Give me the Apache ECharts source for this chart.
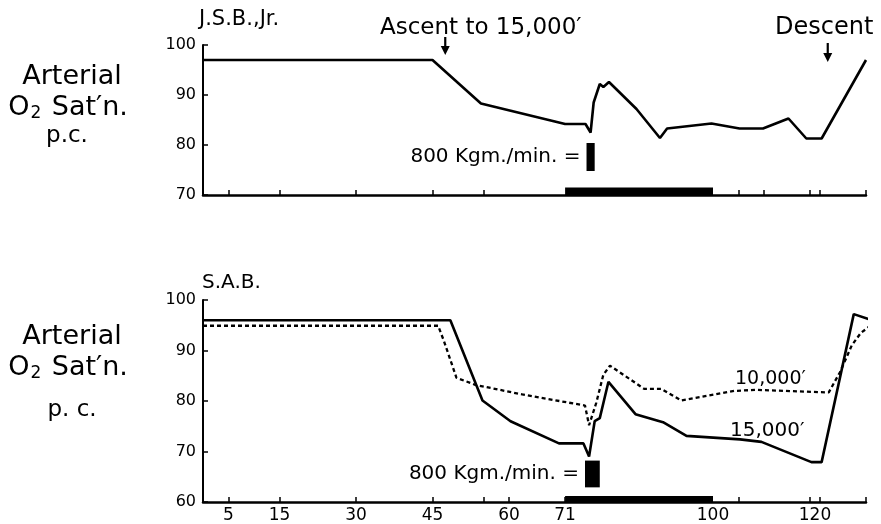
<!DOCTYPE html>
<html>
<head>
<meta charset="utf-8">
<script src="https://cdn.jsdelivr.net/npm/echarts@6/dist/echarts.min.js"></script>
<style>
html, body { margin: 0; padding: 0; background: #fff; }
#chart { width: 881px; height: 524px; }
</style>
</head>
<body>
<div id="chart"></div>
<script>
// J.S.B., Jr. - arterial O2 saturation (%) against minutes, ascent to 15,000'
var jsbMin = [0, 45, 54.5, 71, 75, 76, 76.6, 77.8, 78.5, 79.6, 85, 89.6, 91, 99.7, 105.2, 109.8, 114.8, 118.3, 121.3, 130];
var jsbSat = [97, 97, 88.3, 84.2, 84.2, 82.5, 88.5, 92.2, 91.6, 92.6, 87.2, 81.4, 83.3, 84.3, 83.3, 83.3, 85.3, 81.3, 81.3, 97];

// S.A.B. at 15,000'
var sab15Min = [0, 48.5, 54.8, 60.3, 69.8, 74.6, 75.7, 76.8, 77.8, 79.5, 84.8, 90.2, 94.8, 105.3, 109.5, 119.3, 121.3, 127.6, 131.2];
var sab15Sat = [96, 96, 80.1, 76, 71.6, 71.6, 69, 76, 76.6, 83.8, 77.4, 75.8, 73.1, 72.4, 71.9, 67.9, 67.9, 97.2, 96];

// S.A.B. at 10,000'
var sab10Min = [0, 46.1, 47.2, 49.7, 53.4, 62.6, 74.9, 75.7, 77.1, 78.5, 79.8, 86.5, 89.8, 93.8, 104.2, 108.4, 122.7, 124.9, 127.2, 129, 131];
var sab10Sat = [94.9, 94.9, 92, 84.6, 83.2, 81.3, 79.1, 75.2, 79.6, 85.2, 87, 82.4, 82.4, 80.1, 82, 82.2, 81.7, 85.7, 91, 93.5, 95];

// work period (800 Kgm./min.)
var workStart = 71;
var workEnd = 100;

// axis ticks and labels
var topTicks = [5, 15, 30, 45, 55, 105, 110, 119, 121, 130];
var bottomTicks = [5, 15, 30, 45, 55, 60, 71, 105, 119, 121, 130];
var bottomLabels = [5, 15, 30, 45, 60, 71, 100, 120];
var ascentAt = 47.5;
var descentAt = 122.5;

var FONT = 'DejaVu Sans';

function pairs(xs, ys) {
    var out = [];
    for (var i = 0; i < xs.length; i++) out.push([xs[i], ys[i]]);
    return out;
}

function xAxisFor(idx, ticks, labels) {
    return {
        type: 'value',
        gridIndex: idx,
        min: 0,
        max: 130,
        axisLine: { lineStyle: { color: '#000', width: 2.5 } },
        axisTick: { inside: true, length: 5, customValues: ticks, lineStyle: { color: '#000', width: 1.5 } },
        axisLabel: labels ? {
            customValues: labels, color: '#000', fontSize: 17, fontFamily: FONT, margin: 5
        } : { show: false },
        splitLine: { show: false }
    };
}

function yAxisFor(idx, min) {
    return {
        type: 'value',
        gridIndex: idx,
        min: min,
        max: 100,
        interval: 10,
        axisLine: { show: true, lineStyle: { color: '#000', width: 2 } },
        axisTick: { show: true, inside: true, length: 5, lineStyle: { color: '#000', width: 1.5 } },
        axisLabel: { color: '#000', fontSize: 16, fontFamily: FONT, margin: 7 },
        splitLine: { show: false }
    };
}

var blackArea = { color: '#000', opacity: 1 };
var kgmLabel = {
    show: true, position: 'left', distance: 6, color: '#000',
    fontSize: 20, fontFamily: FONT, formatter: '800 Kgm./min. ='
};

var option = {
    animation: false,
    backgroundColor: '#fff',
    grid: [
        { left: 203, right: 15, top: 45, height: 150 },
        { left: 203, right: 15, top: 300, height: 202 }
    ],
    xAxis: [xAxisFor(0, topTicks, null), xAxisFor(1, bottomTicks, bottomLabels)],
    yAxis: [yAxisFor(0, 70), yAxisFor(1, 60)],
    series: [
        {
            name: 'J.S.B., Jr.',
            type: 'line',
            xAxisIndex: 0, yAxisIndex: 0,
            data: pairs(jsbMin, jsbSat),
            symbol: 'none',
            clip: false,
            lineStyle: { color: '#000', width: 2.6 },
            markArea: {
                silent: true,
                itemStyle: blackArea,
                data: [
                    [{ xAxis: workStart, yAxis: 70 }, { xAxis: workEnd, yAxis: 71.5 }],
                    [{ xAxis: 75.2, yAxis: 80.4, label: kgmLabel }, { xAxis: 76.8, yAxis: 74.8 }]
                ]
            }
        },
        {
            name: "15,000'",
            type: 'line',
            xAxisIndex: 1, yAxisIndex: 1,
            data: pairs(sab15Min, sab15Sat),
            symbol: 'none',
            clip: false,
            lineStyle: { color: '#000', width: 2.6 },
            markArea: {
                silent: true,
                itemStyle: blackArea,
                data: [
                    [{ xAxis: workStart, yAxis: 60 }, { xAxis: workEnd, yAxis: 61.2 }],
                    [{ xAxis: 74.9, yAxis: 68.2, label: kgmLabel }, { xAxis: 77.8, yAxis: 62.9 }]
                ]
            }
        },
        {
            name: "10,000'",
            type: 'line',
            xAxisIndex: 1, yAxisIndex: 1,
            data: pairs(sab10Min, sab10Sat),
            symbol: 'none',
            clip: false,
            lineStyle: { color: '#000', width: 2.3, type: [4, 3] }
        }
    ]
};

var chart = echarts.init(document.getElementById('chart'));
chart.setOption(option);

function txt(x, y, s, size, align) {
    return {
        type: 'text', x: x, y: y, silent: true,
        style: {
            text: s, fill: '#000', font: size + 'px "' + FONT + '"',
            align: align || 'left', verticalAlign: 'middle'
        }
    };
}

// "O2 Sat'n." with a lowered subscript 2
function o2(x, y) {
    return {
        type: 'text', x: x, y: y, silent: true,
        style: {
            text: 'O{s|2} Sat\u2032n.', fill: '#000', font: '27px "' + FONT + '"',
            align: 'center', verticalAlign: 'middle',
            rich: { s: { fontSize: 17, fontFamily: FONT, padding: [12, 2, 0, 1], fill: '#000' } }
        }
    };
}

function arrow(xVal, y0Val, y1Val) {
    var a = chart.convertToPixel({ gridIndex: 0 }, [xVal, y0Val]);
    var b = chart.convertToPixel({ gridIndex: 0 }, [xVal, y1Val]);
    return [
        { type: 'line', silent: true, shape: { x1: a[0], y1: a[1], x2: b[0], y2: b[1] - 5 }, style: { stroke: '#000', lineWidth: 2.2 } },
        { type: 'polygon', silent: true, shape: { points: [[b[0] - 4.5, b[1] - 9], [b[0] + 4.5, b[1] - 9], [b[0], b[1]]] }, style: { fill: '#000' } }
    ];
}

var gfx = [
    txt(199, 20, 'J.S.B.,Jr.', 21),
    txt(380, 28, "Ascent to 15,000\u2032", 23),
    txt(775, 28, 'Descent', 24),
    txt(72, 77, 'Arterial', 27, 'center'),
    o2(68, 108),
    txt(67, 136, 'p.c.', 23, 'center'),
    txt(202, 283, 'S.A.B.', 20),
    txt(72, 337, 'Arterial', 27, 'center'),
    o2(68, 368),
    txt(72, 410, 'p. c.', 23, 'center'),
    txt(735, 379, "10,000\u2032", 19),
    txt(730, 431, "15,000\u2032", 20)
];
gfx = gfx.concat(arrow(ascentAt, 101.6, 98), arrow(descentAt, 100.4, 96.6));
chart.setOption({ graphic: gfx });
</script>
</body>
</html>
